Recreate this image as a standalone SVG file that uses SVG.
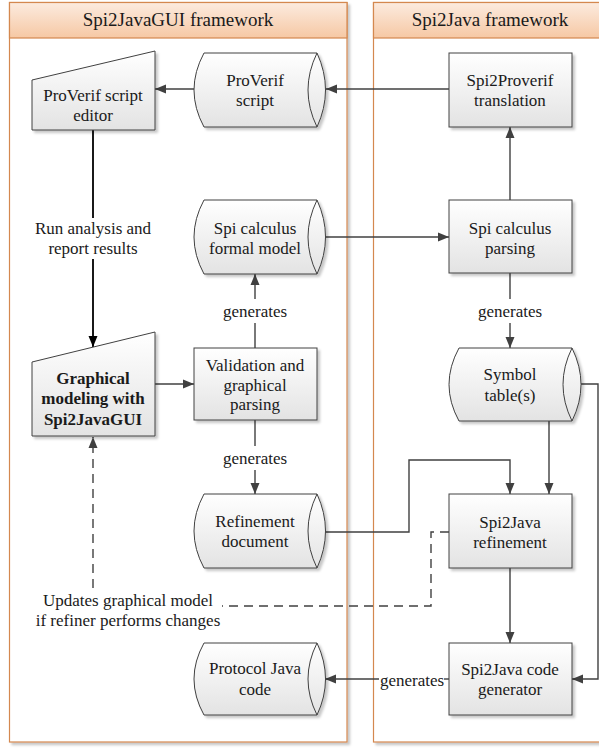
<svg xmlns="http://www.w3.org/2000/svg" width="599" height="749" viewBox="0 0 599 749">
<style>
  text { font-family: "Liberation Serif", "Times New Roman", serif; font-size: 17px; fill: #1a1a1a; text-anchor: middle; }
  .hdr { font-size: 19px; }
  .bold { font-weight: bold; }
  .node { fill: url(#nodeGrad); stroke: #404040; stroke-width: 1; filter: url(#shadow); }
  .inner { fill: none; stroke: #404040; stroke-width: 1; }
  .pool { fill: #ffffff; stroke: #d4884f; stroke-width: 1.2; filter: url(#shadow); }
  .phead { fill: url(#headGrad); stroke: #d4884f; stroke-width: 1.2; }
  .con { fill: none; stroke: #404040; stroke-width: 1.4; }
  .conb { fill: none; stroke: #000000; stroke-width: 1.8; }
  .dash { fill: none; stroke: #404040; stroke-width: 1.4; stroke-dasharray: 9 6; }
</style>
<defs>
  <linearGradient id="nodeGrad" x1="0" y1="0" x2="0" y2="1">
    <stop offset="0" stop-color="#ffffff"/>
    <stop offset="1" stop-color="#e3e3e3"/>
  </linearGradient>
  <linearGradient id="headGrad" x1="0" y1="0" x2="0" y2="1">
    <stop offset="0" stop-color="#fcebdf"/>
    <stop offset="1" stop-color="#f6c8a4"/>
  </linearGradient>
  <filter id="shadow" x="-10%" y="-10%" width="125%" height="125%">
    <feDropShadow dx="2.5" dy="2.5" stdDeviation="1" flood-color="#000000" flood-opacity="0.22"/>
  </filter>
  <marker id="arr" markerUnits="userSpaceOnUse" markerWidth="12" markerHeight="10" refX="11" refY="5" orient="auto">
    <path d="M0,0.5 L11,5 L0,9.5 Z" fill="#404040"/>
  </marker>
  <marker id="arrb" markerUnits="userSpaceOnUse" markerWidth="12" markerHeight="10" refX="11" refY="5" orient="auto">
    <path d="M0,0.5 L11,5 L0,9.5 Z" fill="#000000"/>
  </marker>
</defs>

<g id="pool-left">
  <rect class="pool" x="9.5" y="2.5" width="337.5" height="739.5"/>
  <rect class="phead" x="9.5" y="2.5" width="337.5" height="35.5"/>
  <text class="hdr" x="178" y="26">Spi2JavaGUI framework</text>
</g>
<g id="pool-right">
  <rect class="pool" x="373.5" y="2.5" width="230" height="739.5"/>
  <rect class="phead" x="373.5" y="2.5" width="230" height="35.5"/>
  <text class="hdr" x="490" y="26">Spi2Java framework</text>
</g>

<g id="connectors">
  <path class="con" d="M449,89 H326" marker-end="url(#arr)"/>
  <path class="con" d="M194,89 H155" marker-end="url(#arr)"/>
  <path class="conb" d="M93,130 V218"/>
  <path class="conb" d="M93,259 V347" marker-end="url(#arrb)"/>
  <path class="con" d="M155,384 H194" marker-end="url(#arr)"/>
  <path class="con" d="M255,348 V323"/>
  <path class="con" d="M255,299 V274" marker-end="url(#arr)"/>
  <path class="con" d="M255,420 V446"/>
  <path class="con" d="M255,470 V494" marker-end="url(#arr)"/>
  <path class="con" d="M325,237 H449" marker-end="url(#arr)"/>
  <path class="con" d="M510,200 V127" marker-end="url(#arr)"/>
  <path class="con" d="M510,273 V299"/>
  <path class="con" d="M510,323 V348" marker-end="url(#arr)"/>
  <path class="con" d="M549,421 V494" marker-end="url(#arr)"/>
  <path class="con" d="M581,384 H598 V679 H572" marker-end="url(#arr)"/>
  <path class="con" d="M325,532 H409 V460 H510 V494" marker-end="url(#arr)"/>
  <path class="con" d="M510,568 V643" marker-end="url(#arr)"/>
  <path class="con" d="M449,679 H444"/>
  <path class="con" d="M379,679 H325" marker-end="url(#arr)"/>
  <path class="dash" d="M449,532 H431 V606 H222"/>
  <path class="dash" d="M93,588 V437" marker-end="url(#arr)"/>
  <text x="93" y="234">Run analysis and</text>
  <text x="93" y="254">report results</text>
  <text x="255" y="317">generates</text>
  <text x="255" y="464">generates</text>
  <text x="510" y="317">generates</text>
  <text x="412" y="686">generates</text>
  <text x="128" y="606">Updates graphical model</text>
  <text x="128" y="626">if refiner performs changes</text>
</g>

<g id="proverif-editor">
  <path class="node" d="M32,80 L155,51 V130 H32 Z"/>
  <text x="93" y="101">ProVerif script</text>
  <text x="93" y="121">editor</text>
</g>
<g id="proverif-script">
  <path class="node" d="M204,53 H317 Q334,90 317,127 H204 Q184,90 204,53 Z"/>
  <path class="inner" d="M317,53 Q299,90 317,127"/>
  <text x="255" y="86">ProVerif</text>
  <text x="255" y="106">script</text>
</g>
<g id="spi2proverif">
  <rect class="node" x="449" y="53" width="123" height="74"/>
  <text x="510" y="86">Spi2Proverif</text>
  <text x="510" y="106">translation</text>
</g>
<g id="spi-model">
  <path class="node" d="M204,200 H317 Q334,237 317,274 H204 Q184,237 204,200 Z"/>
  <path class="inner" d="M317,200 Q299,237 317,274"/>
  <text x="255" y="234">Spi calculus</text>
  <text x="255" y="254">formal model</text>
</g>
<g id="spi-parsing">
  <rect class="node" x="449" y="200" width="123" height="73"/>
  <text x="510" y="234">Spi calculus</text>
  <text x="510" y="254">parsing</text>
</g>
<g id="graphical-modeling">
  <path class="node" d="M32,362 L155,332 V436 H32 Z"/>
  <text class="bold" x="93" y="384">Graphical</text>
  <text class="bold" x="93" y="404">modeling with</text>
  <text class="bold" x="93" y="425">Spi2JavaGUI</text>
</g>
<g id="validation">
  <rect class="node" x="194" y="348" width="123" height="72"/>
  <text x="255" y="371">Validation and</text>
  <text x="255" y="391">graphical</text>
  <text x="255" y="410">parsing</text>
</g>
<g id="symbol-table">
  <path class="node" d="M459,348 H572 Q590,384.5 572,421 H459 Q439,384.5 459,348 Z"/>
  <path class="inner" d="M572,348 Q554,384.5 572,421"/>
  <text x="510" y="380">Symbol</text>
  <text x="510" y="401">table(s)</text>
</g>
<g id="refinement-document">
  <path class="node" d="M204,494 H317 Q334,531 317,568 H204 Q184,531 204,494 Z"/>
  <path class="inner" d="M317,494 Q299,531 317,568"/>
  <text x="255" y="527">Refinement</text>
  <text x="255" y="547">document</text>
</g>
<g id="spi2java-refinement">
  <rect class="node" x="449" y="494" width="123" height="74"/>
  <text x="510" y="528">Spi2Java</text>
  <text x="510" y="548">refinement</text>
</g>
<g id="code-generator">
  <rect class="node" x="449" y="643" width="123" height="72"/>
  <text x="510" y="675">Spi2Java code</text>
  <text x="510" y="695">generator</text>
</g>
<g id="protocol-java-code">
  <path class="node" d="M204,643 H317 Q334,679 317,715 H204 Q184,679 204,643 Z"/>
  <path class="inner" d="M317,643 Q299,679 317,715"/>
  <text x="255" y="674">Protocol Java</text>
  <text x="255" y="695">code</text>
</g>
</svg>
